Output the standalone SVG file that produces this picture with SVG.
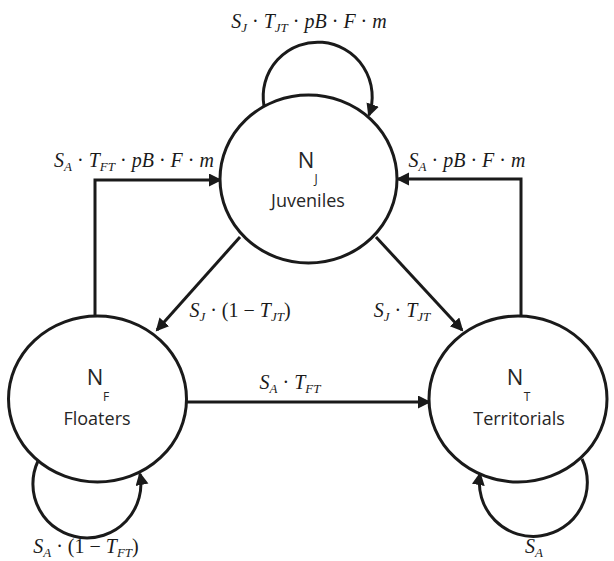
<svg xmlns="http://www.w3.org/2000/svg" width="614" height="561" viewBox="0 0 614 561">
<defs>
<style>
.node{fill:#fff;stroke:#1a1a1a;stroke-width:3}
.edge{fill:none;stroke:#1a1a1a;stroke-width:3}
.lbl{font-family:"Open Sans","Liberation Sans",sans-serif;fill:#262626;text-anchor:middle}
.big{font-size:22px}
.sm{font-size:12px}
.name{font-size:18px}
.m{font-family:"Liberation Serif","DejaVu Serif",serif;font-size:20px;fill:#1a1a1a;text-anchor:middle}
.i{font-style:italic}
.s{font-style:italic;font-size:13px}
</style>
<marker id="ah" markerUnits="userSpaceOnUse" markerWidth="14" markerHeight="14" refX="11" refY="6.5" orient="auto">
<path d="M0,0 L13,6.5 L0,13 z" fill="#1a1a1a"/>
</marker>
</defs>
<g id="connectors">
<path class="edge" d="M264,106 A54.5,54.5 0 1 1 369,115" marker-end="url(#ah)"/>
<path class="edge" d="M38,461 A54,54 0 1 0 140,474" marker-end="url(#ah)"/>
<path class="edge" d="M582,459 A54,54 0 1 1 480,474" marker-end="url(#ah)"/>
<path class="edge" d="M95,316 V180 H220" marker-end="url(#ah)"/>
<path class="edge" d="M521,316 V179 H398" marker-end="url(#ah)"/>
<path class="edge" d="M187,402 H429" marker-end="url(#ah)"/>
<path class="edge" d="M240,237 L157,330" marker-end="url(#ah)"/>
<path class="edge" d="M376,237 L462,330" marker-end="url(#ah)"/>
</g>
<g id="edge-labels">
<text class="m" x="309" y="28"><tspan class="i">S</tspan><tspan class="s" dy="4">J</tspan><tspan dy="-4"> · </tspan><tspan class="i">T</tspan><tspan class="s" dy="4">JT</tspan><tspan dy="-4"> · </tspan><tspan class="i">pB</tspan> · <tspan class="i">F</tspan> · <tspan class="i">m</tspan></text>
<text class="m" x="134" y="167"><tspan class="i">S</tspan><tspan class="s" dy="4">A</tspan><tspan dy="-4"> · </tspan><tspan class="i">T</tspan><tspan class="s" dy="4">FT</tspan><tspan dy="-4"> · </tspan><tspan class="i">pB</tspan> · <tspan class="i">F</tspan> · <tspan class="i">m</tspan></text>
<text class="m" x="467" y="167"><tspan class="i">S</tspan><tspan class="s" dy="4">A</tspan><tspan dy="-4"> · </tspan><tspan class="i">pB</tspan> · <tspan class="i">F</tspan> · <tspan class="i">m</tspan></text>
<text class="m" x="240" y="317"><tspan class="i">S</tspan><tspan class="s" dy="4">J</tspan><tspan dy="-4"> · (1 −  </tspan><tspan class="i">T</tspan><tspan class="s" dy="4">JT</tspan><tspan dy="-4">)</tspan></text>
<text class="m" x="402" y="317"><tspan class="i">S</tspan><tspan class="s" dy="4">J</tspan><tspan dy="-4"> · </tspan><tspan class="i">T</tspan><tspan class="s" dy="4">JT</tspan></text>
<text class="m" x="290" y="389"><tspan class="i">S</tspan><tspan class="s" dy="4">A</tspan><tspan dy="-4"> · </tspan><tspan class="i">T</tspan><tspan class="s" dy="4">FT</tspan></text>
<text class="m" x="86" y="553"><tspan class="i">S</tspan><tspan class="s" dy="4">A</tspan><tspan dy="-4"> · (1 − </tspan><tspan class="i">T</tspan><tspan class="s" dy="4">FT</tspan><tspan dy="-4">)</tspan></text>
<text class="m" x="534" y="553"><tspan class="i">S</tspan><tspan class="s" dy="4">A</tspan></text>
</g>
<g id="juveniles">
<ellipse class="node" cx="308.5" cy="179" rx="88.5" ry="84"/>
<text class="lbl big" x="306" y="168">N</text>
<text class="lbl sm" x="316" y="183">J</text>
<text class="lbl name" x="308" y="207">Juveniles</text>
</g>
<g id="floaters">
<ellipse class="node" cx="97.5" cy="399" rx="89" ry="83"/>
<text class="lbl big" x="95" y="385">N</text>
<text class="lbl sm" x="106" y="401">F</text>
<text class="lbl name" x="97" y="425">Floaters</text>
</g>
<g id="territorials">
<ellipse class="node" cx="518" cy="399" rx="89" ry="83"/>
<text class="lbl big" x="515" y="385">N</text>
<text class="lbl sm" x="527" y="401">T</text>
<text class="lbl name" x="519" y="425">Territorials</text>
</g>
</svg>
